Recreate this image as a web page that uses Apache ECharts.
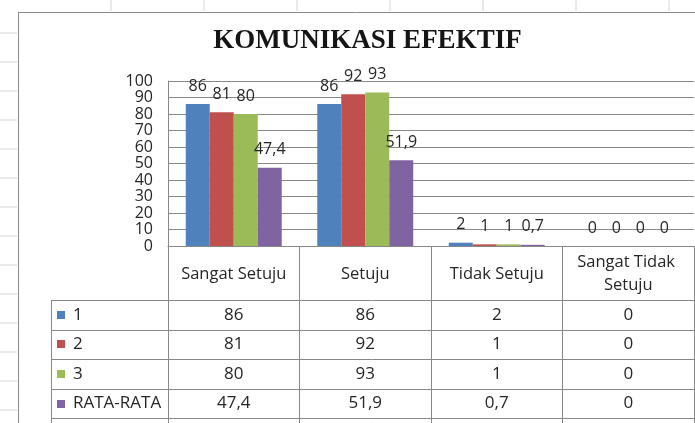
<!DOCTYPE html>
<html>
<head>
<meta charset="utf-8">
<script src="https://cdn.jsdelivr.net/npm/echarts@6/dist/echarts.min.js"></script>
<style>
html,body{margin:0;padding:0;background:#fff;}
#chart{width:695px;height:423px;}
</style>
</head>
<body>
<div id="chart"></div>
<script>
// ---- data ----
const categories = ['Sangat Setuju', 'Setuju', 'Tidak Setuju', 'Sangat Tidak Setuju'];
const seriesNames = ['1', '2', '3', 'RATA-RATA'];
const values1 = [86, 86, 2, 0];
const values2 = [81, 92, 1, 0];
const values3 = [80, 93, 1, 0];
const valuesAvg = [47.4, 51.9, 0.7, 0];
const yMin = 0, yMax = 100, yInterval = 10;
const titleText = 'KOMUNIKASI EFEKTIF';

// ---- style ----
const colors = ['#4F81BD', '#C0504D', '#9BBB59', '#8064A2'];
const allValues = [values1, values2, values3, valuesAvg];
const FONT = "'Open Sans', 'DejaVu Sans', sans-serif";
const TEXT = '#262626';
const LINE = '#888888';
const fmt = v => String(v).replace('.', ',');

const chart = echarts.init(document.getElementById('chart'), null, {renderer: 'canvas'});

const GRID = {left: 168, top: 81, width: 526, height: 165};

chart.setOption({
  animation: false,
  backgroundColor: '#fff',
  grid: GRID,
  xAxis: {
    type: 'category',
    data: categories,
    axisLine: {show: true, lineStyle: {color: LINE, width: 1}},
    axisTick: {show: true, length: 200, lineStyle: {color: LINE, width: 1}},
    axisLabel: {
      interval: 0, margin: 28, verticalAlign: 'middle',
      width: 124, overflow: 'break', lineHeight: 23,
      fontSize: 16.5, fontFamily: FONT, color: TEXT
    },
    splitLine: {show: false}
  },
  yAxis: {
    type: 'value', min: yMin, max: yMax, interval: yInterval,
    axisLine: {show: true, lineStyle: {color: LINE, width: 1}},
    axisTick: {show: false},
    axisLabel: {margin: 15, fontSize: 16, fontFamily: FONT, color: TEXT,
      showMinLabel: true, showMaxLabel: true},
    splitLine: {show: true, lineStyle: {color: LINE, width: 1}}
  },
  series: seriesNames.map((name, i) => ({
    name: name,
    type: 'bar',
    data: allValues[i],
    barGap: '0%',
    barCategoryGap: '27%',
    itemStyle: {color: colors[i]},
    label: {
      show: true, position: 'top', distance: 10,
      fontSize: 16, fontFamily: FONT, color: TEXT,
      formatter: p => fmt(p.value)
    }
  }))
});

// ---- title, frame, data table (built from the data arrays, x from the category axis) ----
const W = 695, H = 423;
const TABLE_TOP = 300, ROW_H = 29.6, TABLE_LEFT = 51;
const gridRight = GRID.left + GRID.width;
const centers = categories.map(c => chart.convertToPixel({xAxisIndex: 0}, c));
const g = [];

// spreadsheet grid remnants
for (let y = 33; y < H; y += 29) {
  g.push({type: 'line', silent: true, shape: {x1: 0, y1: y, x2: 17, y2: y}, style: {stroke: '#d6d6d6', lineWidth: 1}});
}
for (let x = 111; x < W; x += 93) {
  g.push({type: 'line', silent: true, shape: {x1: x, y1: 0, x2: x, y2: 11}, style: {stroke: '#d6d6d6', lineWidth: 1}});
}
// chart frame
g.push({type: 'line', silent: true, shape: {x1: 18.5, y1: 12, x2: 18.5, y2: H}, style: {stroke: '#8a8a8a', lineWidth: 1}});
g.push({type: 'line', silent: true, shape: {x1: 18, y1: 12.5, x2: W, y2: 12.5}, style: {stroke: '#8a8a8a', lineWidth: 1}});

// title
g.push({type: 'text', silent: true, x: 367.5, y: 41,
  style: {text: titleText, align: 'center', verticalAlign: 'middle',
    font: "bold 27px 'Liberation Serif', 'DejaVu Serif', serif", fill: '#151515'}});

// table horizontal lines
for (let r = 0; r <= seriesNames.length; r++) {
  const y = Math.round(TABLE_TOP + r * ROW_H) + 0.5;
  g.push({type: 'line', silent: true, shape: {x1: TABLE_LEFT, y1: y, x2: gridRight, y2: y}, style: {stroke: LINE, lineWidth: 1}});
}
g.push({type: 'line', silent: true, shape: {x1: TABLE_LEFT + 0.5, y1: TABLE_TOP, x2: TABLE_LEFT + 0.5, y2: H}, style: {stroke: LINE, lineWidth: 1}});

// rows
seriesNames.forEach((name, r) => {
  const cy = TABLE_TOP + (r + 0.5) * ROW_H;
  g.push({type: 'rect', silent: true, shape: {x: 57, y: Math.round(cy - 4), width: 8, height: 8}, style: {fill: colors[r]}});
  g.push({type: 'text', silent: true, x: 73, y: cy,
    style: {text: name, align: 'left', verticalAlign: 'middle', font: '17px ' + FONT, fill: TEXT}});
  allValues[r].forEach((v, c) => {
    g.push({type: 'text', silent: true, x: centers[c], y: cy,
      style: {text: fmt(v), align: 'center', verticalAlign: 'middle', font: '17px ' + FONT, fill: TEXT}});
  });
});

chart.setOption({graphic: {elements: g}});
</script>
</body>
</html>
